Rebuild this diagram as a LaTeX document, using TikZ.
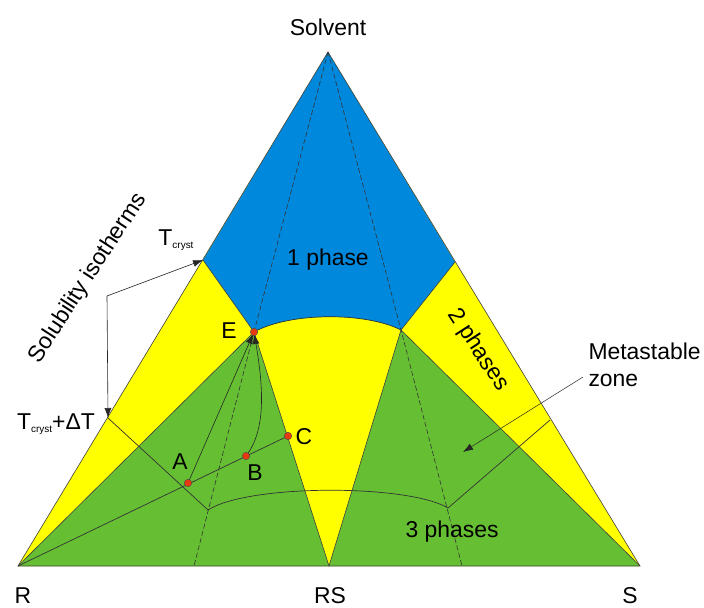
\documentclass[tikz,border=0pt]{standalone}
\usepackage{fontspec}
\setmainfont{Liberation Sans}
\usetikzlibrary{arrows.meta}

\definecolor{phaseblue}{RGB}{0,136,221}
\definecolor{phaseyellow}{RGB}{255,255,0}
\definecolor{phasegreen}{RGB}{102,191,51}
\definecolor{dotred}{RGB}{232,58,16}
\newcommand\cryst{{\fontsize{10}{10}\selectfont cryst}}

\begin{document}
\begin{tikzpicture}[
  x=1bp, y=-1bp,
  font=\fontsize{23}{27}\selectfont,
  edge/.style={draw=black!75, line width=0.6bp},
  iso/.style={black!80, line width=0.7bp},
  tie/.style={black!80, line width=0.6bp, dash pattern=on 5bp off 2.5bp},
  pt/.style={circle, fill=dotred, draw=black!70, line width=0.4bp, inner sep=0pt, minimum size=7.5bp},
  ar/.style={-{Latex[length=10bp,width=7bp]}, black!85, line width=0.6bp}
]
\useasboundingbox (0,0) rectangle (704,608);
% corners and region points
\coordinate (top) at (328,52);
\coordinate (R)   at (18,566);
\coordinate (S)   at (640,566);
\coordinate (RS)  at (329,566);
\coordinate (tl)  at (203,260);
\coordinate (tr)  at (455,262);
\coordinate (E)   at (254,332);
\coordinate (P)   at (401,330);
\coordinate (dl)  at (108,418);
\coordinate (dr)  at (550,420);
\coordinate (ml)  at (208,510);
\coordinate (mr)  at (448,508);
\coordinate (bl)  at (194,566);
\coordinate (br)  at (462,566);
\coordinate (A)   at (188,483);
\coordinate (B)   at (246,456);
\coordinate (C)   at (288,436);
\coordinate (sk)  at (107,296);
\coordinate (mz)  at (583,377);
\coordinate (mzt) at (463,452);
% phase regions
\fill[phaseyellow] (top) -- (R) -- (S) -- cycle;
\fill[phaseblue] (top) -- (tl) -- (E) .. controls (290,312) and (366,312) .. (P) -- (tr) -- cycle;
\fill[phasegreen] (E) -- (R) -- (RS) -- cycle;
\fill[phasegreen] (P) -- (RS) -- (S) -- cycle;
\draw[edge] (tl) -- (E) -- (R); \draw[edge] (E) -- (RS) -- (P) -- (tr); \draw[edge] (P) -- (S);
\draw[edge] (top) -- (R) -- (S) -- cycle;
% isotherms
\draw[iso] (E) .. controls (290,312) and (366,312) .. (P);
\draw[iso] (dl) -- (ml) .. controls (248,484) and (408,484) .. (mr) -- (dr);
\draw[tie] (top) -- (E) -- (bl);
\draw[tie] (top) -- (P) -- (br);
% crystallisation paths
\draw[iso] (R) -- (C);
\draw[ar, shorten >=2bp] (A) -- (E);
\draw[ar, shorten >=2bp] (B) .. controls (268,428) and (262,380) .. (E);
\draw[ar] (sk) -- (tl); \draw[ar] (sk) -- (dl);
\draw[ar, line width=0.5bp] (mz) -- (mzt);
\node[pt] (dotE) at (E) {};
\node[pt] (dotA) at (A) {};
\node[pt] (dotB) at (B) {};
\node[pt] (dotC) at (C) {};
% labels
\node (solv) at (328,27)  {Solvent};
\node (lR)   at (23,596)  {R};
\node (lRS)  at (330,596) {RS};
\node (lS)   at (630,596) {S};
\node (lE)   at (229,331) {E};
\node (lA)   at (180,462) {A};
\node (lB)   at (255,473) {B};
\node (lC)   at (304,437) {C};
\node (one)  at (328,260) {1 phase};
\node[rotate=-57] (two) at (478,350) {2 phases};
\node (three) at (452,532) {3 phases};
\node[align=left, anchor=west] (meta) at (585,365) {Metastable\\zone};
\node[rotate=57] (sol) at (88,278) {Solubility isotherms};
\node (tc)  at (176,240) {T\raisebox{-3bp}{\cryst}};
\node (tcd) at (56,424)  {T\raisebox{-3bp}{\cryst}+ΔT};
\end{tikzpicture}
\end{document}
